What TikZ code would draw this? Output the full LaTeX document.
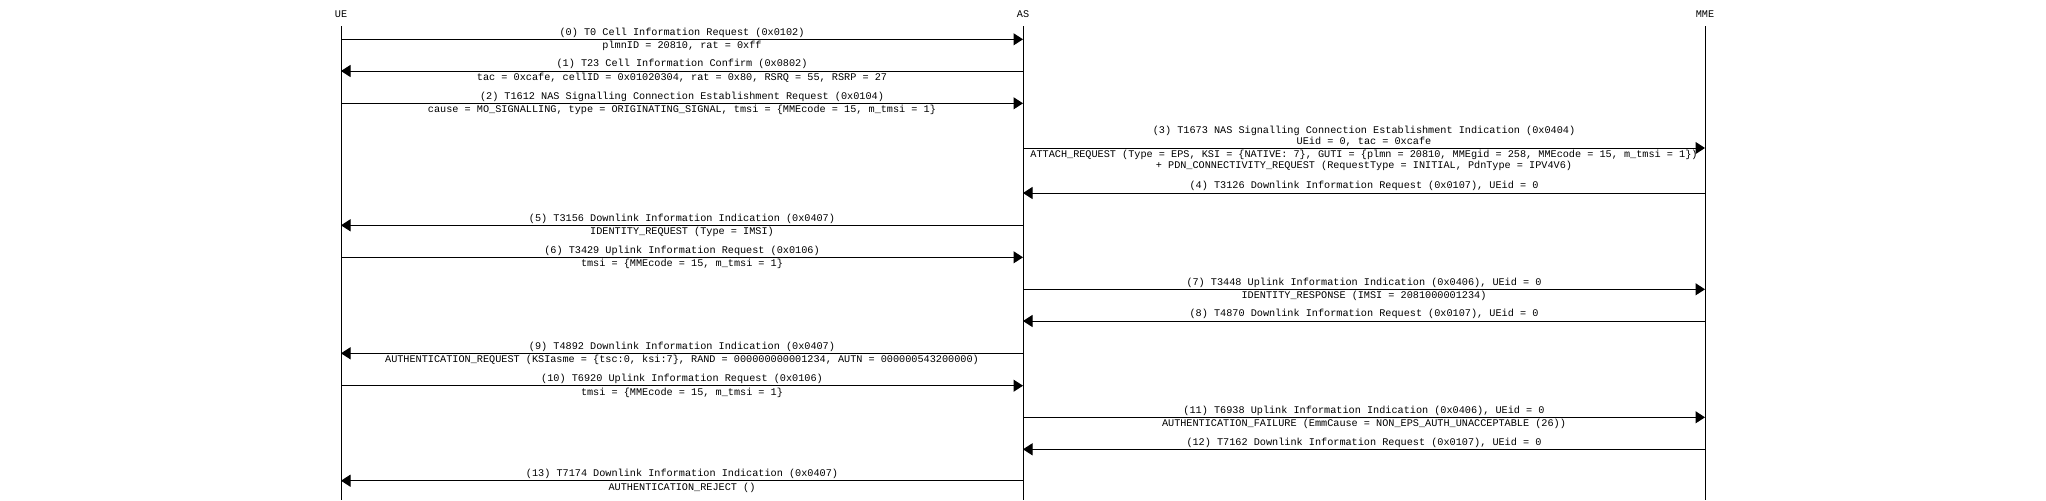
\documentclass[tikz,border=0pt]{standalone}
\usepackage{fontspec}
\newfontfamily\seqfont{Liberation Mono}
\usetikzlibrary{arrows.meta}
\tikzset{
  life/.style={line width=0.5pt},
  msg/.style={line width=0.5pt, -{Triangle[length=4.75pt,width=6pt]}},
  txt/.style={font=\seqfont\fontsize{5.1}{5.6}\selectfont, inner sep=0pt, align=center},
  up/.style={txt, anchor=south, yshift=0.75pt},
  down/.style={txt, anchor=north, yshift=-0.75pt}
}
\begin{document}
\begin{tikzpicture}[x=0.5pt, y=-0.5pt]
\useasboundingbox (0,0) rectangle (2046,500);
% participants
\node[txt] (UE) at (341,14) {UE};
\node[txt] (AS) at (1023,14) {AS};
\node[txt] (MME) at (1705,14) {MME};
\coordinate (UEtop) at (341,26);
\coordinate (AStop) at (1023,26);
\coordinate (MMEtop) at (1705,26);
\coordinate (UEbot) at (341,500);
\coordinate (ASbot) at (1023,500);
\coordinate (MMEbot) at (1705,500);
\draw[life] (UEtop) -- (UEbot);
\draw[life] (AStop) -- (ASbot);
\draw[life] (MMEtop) -- (MMEbot);
% messages
\coordinate (m0) at (0,39.3);
\draw[msg] (UEtop |- m0) -- (AStop |- m0)
  node[midway, up] (m0t) {(0) T0 Cell Information Request (0x0102)}
  node[midway, down] (m0b) {plmnID = 20810, rat = 0xff};
\coordinate (m1) at (0,71);
\draw[msg] (AStop |- m1) -- (UEtop |- m1)
  node[midway, up] (m1t) {(1) T23 Cell Information Confirm (0x0802)}
  node[midway, down] (m1b) {tac = 0xcafe, cellID = 0x01020304, rat = 0x80, RSRQ = 55, RSRP = 27};
\coordinate (m2) at (0,103.3);
\draw[msg] (UEtop |- m2) -- (AStop |- m2)
  node[midway, up] (m2t) {(2) T1612 NAS Signalling Connection Establishment Request (0x0104)}
  node[midway, down] (m2b) {cause = MO\_SIGNALLING, type = ORIGINATING\_SIGNAL, tmsi = \{MMEcode = 15, m\_tmsi = 1\}};
\coordinate (m3) at (0,148);
\draw[msg] (AStop |- m3) -- (MMEtop |- m3)
  node[midway, up] (m3t) {(3) T1673 NAS Signalling Connection Establishment Indication (0x0404)\\UEid = 0, tac = 0xcafe}
  node[midway, down] (m3b) {ATTACH\_REQUEST (Type = EPS, KSI = \{NATIVE: 7\}, GUTI = \{plmn = 20810, MMEgid = 258, MMEcode = 15, m\_tmsi = 1\})\\+ PDN\_CONNECTIVITY\_REQUEST (RequestType = INITIAL, PdnType = IPV4V6)};
\coordinate (m4) at (0,193);
\draw[msg] (MMEtop |- m4) -- (AStop |- m4)
  node[midway, up] (m4t) {(4) T3126 Downlink Information Request (0x0107), UEid = 0};
\coordinate (m5) at (0,225.3);
\draw[msg] (AStop |- m5) -- (UEtop |- m5)
  node[midway, up] (m5t) {(5) T3156 Downlink Information Indication (0x0407)}
  node[midway, down] (m5b) {IDENTITY\_REQUEST (Type = IMSI)};
\coordinate (m6) at (0,257.3);
\draw[msg] (UEtop |- m6) -- (AStop |- m6)
  node[midway, up] (m6t) {(6) T3429 Uplink Information Request (0x0106)}
  node[midway, down] (m6b) {tmsi = \{MMEcode = 15, m\_tmsi = 1\}};
\coordinate (m7) at (0,289.3);
\draw[msg] (AStop |- m7) -- (MMEtop |- m7)
  node[midway, up] (m7t) {(7) T3448 Uplink Information Indication (0x0406), UEid = 0}
  node[midway, down] (m7b) {IDENTITY\_RESPONSE (IMSI = 2081000001234)};
\coordinate (m8) at (0,321);
\draw[msg] (MMEtop |- m8) -- (AStop |- m8)
  node[midway, up] (m8t) {(8) T4870 Downlink Information Request (0x0107), UEid = 0};
\coordinate (m9) at (0,353.3);
\draw[msg] (AStop |- m9) -- (UEtop |- m9)
  node[midway, up] (m9t) {(9) T4892 Downlink Information Indication (0x0407)}
  node[midway, down] (m9b) {AUTHENTICATION\_REQUEST (KSIasme = \{tsc:0, ksi:7\}, RAND = 000000000001234, AUTN = 000000543200000)};
\coordinate (m10) at (0,385.7);
\draw[msg] (UEtop |- m10) -- (AStop |- m10)
  node[midway, up] (m10t) {(10) T6920 Uplink Information Request (0x0106)}
  node[midway, down] (m10b) {tmsi = \{MMEcode = 15, m\_tmsi = 1\}};
\coordinate (m11) at (0,417.3);
\draw[msg] (AStop |- m11) -- (MMEtop |- m11)
  node[midway, up] (m11t) {(11) T6938 Uplink Information Indication (0x0406), UEid = 0}
  node[midway, down] (m11b) {AUTHENTICATION\_FAILURE (EmmCause = NON\_EPS\_AUTH\_UNACCEPTABLE (26))};
\coordinate (m12) at (0,449.3);
\draw[msg] (MMEtop |- m12) -- (AStop |- m12)
  node[midway, up] (m12t) {(12) T7162 Downlink Information Request (0x0107), UEid = 0};
\coordinate (m13) at (0,480.7);
\draw[msg] (AStop |- m13) -- (UEtop |- m13)
  node[midway, up] (m13t) {(13) T7174 Downlink Information Indication (0x0407)}
  node[midway, down] (m13b) {AUTHENTICATION\_REJECT ()};
\end{tikzpicture}
\end{document}
